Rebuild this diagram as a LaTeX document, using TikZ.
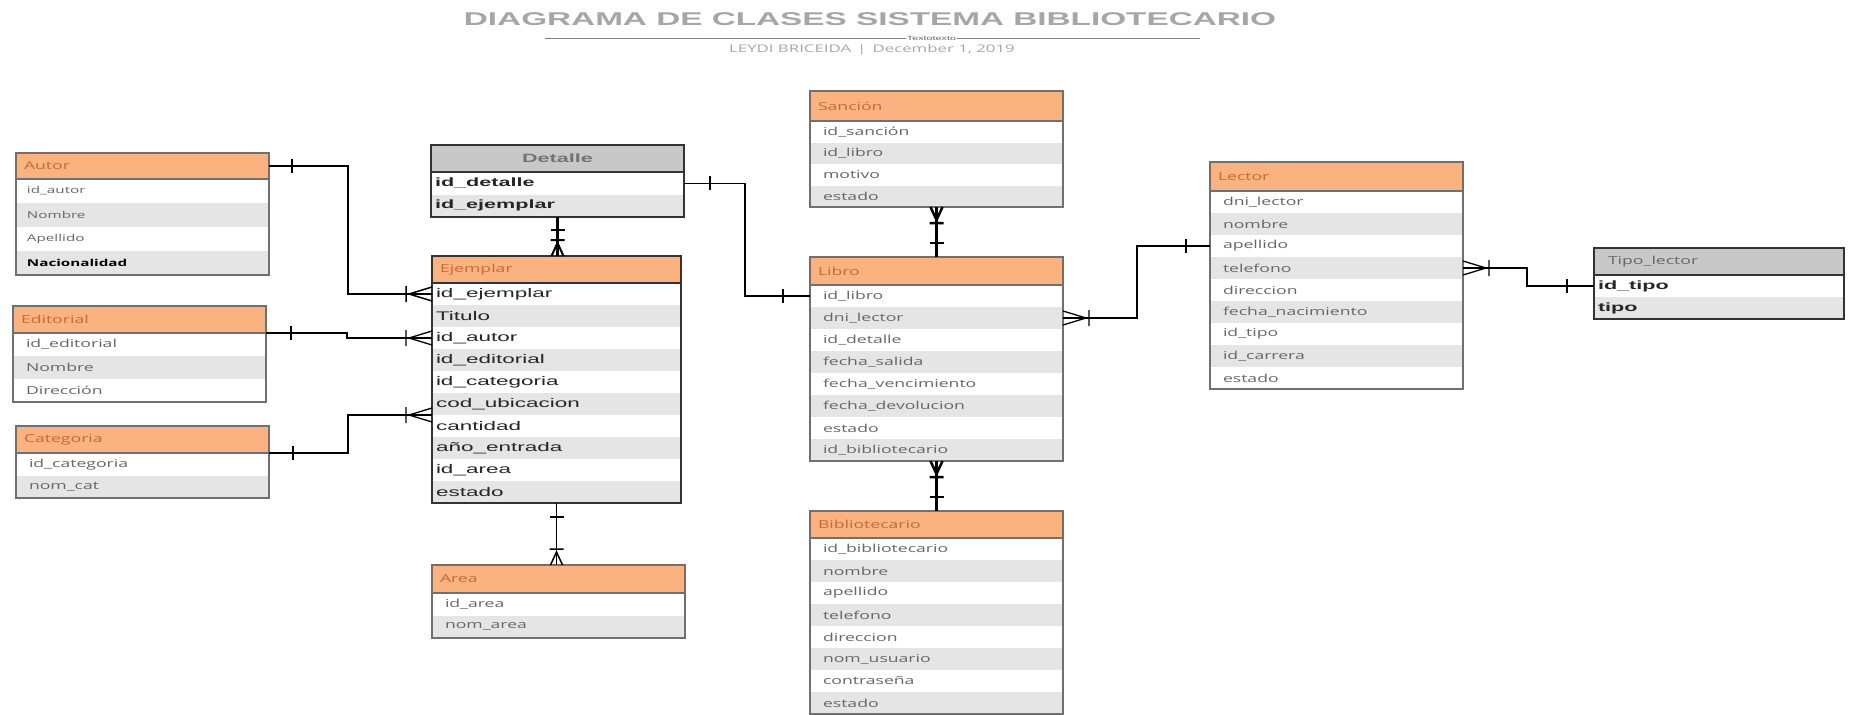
\documentclass[tikz,border=0pt]{standalone}
\usepackage{fontspec}
\usepackage{xcolor}
\newfontfamily\sansrow[FakeStretch=1.6]{Open Sans}
\newfontfamily\sanshead[FakeStretch=1.8]{Liberation Sans}
\usetikzlibrary{positioning}

\definecolor{headorange}{RGB}{250,178,128}
\definecolor{headtext}{RGB}{196,106,53}
\definecolor{headgray}{RGB}{200,200,200}
\definecolor{rowgray}{RGB}{229,229,229}
\definecolor{rowtext}{RGB}{102,102,102}
\definecolor{boxline}{RGB}{112,112,112}
\definecolor{titlegray}{RGB}{166,166,166}

\tikzstyle{head} = [anchor=north west, fill=headorange, text=headtext, inner xsep=8pt, inner ysep=0pt, outer sep=0pt, text width=237pt, align=left, font=\sansrow\fontsize{11}{13}\selectfont]
\tikzstyle{grayhead} = [head, fill=headgray, text=rowtext]
\tikzstyle{row} = [inner xsep=13pt, inner ysep=0pt, outer sep=0pt, text width=227pt, align=left, text=rowtext, font=\sansrow\fontsize{11}{13}\selectfont]
\tikzstyle{row0} = [row, fill=rowgray]
\tikzstyle{row1} = [row, fill=white]
\tikzstyle{blackrow} = [inner xsep=4pt, text width=245pt, text=black!85, font=\sanshead\fontsize{12.5}{14}\selectfont]
\tikzstyle{box} = [draw=boxline, line width=1.2pt]
\tikzstyle{darkbox} = [draw=black!80, line width=2pt]
\tikzstyle{fk} = [draw=black, line width=1.3pt]
\tikzset{
  crow/.pic={\draw (0,-7) -- (-23,0) -- (0,7) (-26,-8) -- (-26,8);},
  crowv/.pic={\draw (0,-6) -- (-13,0) -- (0,6) (-16,-7) -- (-16,7);},
  bar/.pic={\draw (0,-7) -- (0,7);}
}

\begin{document}
\begin{tikzpicture}[x=1pt, y=-1pt]
    \useasboundingbox (0,0) rectangle (1856,715);

    % Title
    \node [font=\sanshead\bfseries\fontsize{18.5}{18.5}\selectfont, text=titlegray] (title) at (870,19) {DIAGRAMA DE CLASES SISTEMA BIBLIOTECARIO};
    \draw [gray, line width=0.8pt] (545,38) -- node [pos=0.59, fill=white, inner sep=1pt, font=\sanshead\fontsize{6}{6}\selectfont, text=black!60] (tag) {Textotexto} (1200,38);
    \node [font=\sansrow\fontsize{10.5}{12}\selectfont, text=titlegray] (author) at (872,50) {LEYDI BRICEIDA \,|\, December 1, 2019};

    % Autor
    \node [head, minimum height=26pt] (autor) at (16,153) {Autor};
    \foreach \field [count=\i, remember=\i as \j (initially ), evaluate=\i as \k using {int(mod(\i,2))}] in {id\_autor, Nombre, Apellido, {\textcolor{black}{\bfseries Nacionalidad}}}
        \node [row\k, inner xsep=11pt, text width=231pt, font=\sansrow\fontsize{9.5}{11}\selectfont, minimum height=24pt, below=0pt of autor\j] (autor\i) {\field};
    \draw [box] (autor.north west) rectangle (autor4.south east) (autor.south west) -- (autor.south east);

    % Editorial
    \node [head, minimum height=27pt] (editorial) at (13,306) {Editorial};
    \foreach \field [count=\i, remember=\i as \j (initially ), evaluate=\i as \k using {int(mod(\i,2))}] in {id\_editorial, Nombre, Dirección}
        \node [row\k, minimum height=23pt, below=0pt of editorial\j] (editorial\i) {\field};
    \draw [box] (editorial.north west) rectangle (editorial3.south east) (editorial.south west) -- (editorial.south east);

    % Categoria
    \node [head, minimum height=27pt] (categoria) at (16,426) {Categoria};
    \foreach \field [count=\i, remember=\i as \j (initially ), evaluate=\i as \k using {int(mod(\i,2))}] in {id\_categoria, nom\_cat}
        \node [row\k, minimum height=22.5pt, below=0pt of categoria\j] (categoria\i) {\field};
    \draw [box] (categoria.north west) rectangle (categoria2.south east) (categoria.south west) -- (categoria.south east);

    % Detalle
    \node [grayhead, align=center, text=black!55, font=\sanshead\bfseries\fontsize{12}{14}\selectfont, minimum height=27pt] (detalle) at (431,145) {Detalle};
    \foreach \field [count=\i, remember=\i as \j (initially ), evaluate=\i as \k using {int(mod(\i,2))}] in {id\_detalle, id\_ejemplar}
        \node [row\k, blackrow, font=\sanshead\bfseries\fontsize{12}{14}\selectfont, minimum height=22.5pt, below=0pt of detalle\j] (detalle\i) {\field};
    \draw [darkbox] (detalle.north west) rectangle (detalle2.south east) (detalle.south west) -- (detalle.south east);

    % Ejemplar
    \node [head, text width=233pt, minimum height=27pt] (ejemplar) at (432,256) {Ejemplar};
    \foreach \field [count=\i, remember=\i as \j (initially ), evaluate=\i as \k using {int(mod(\i,2))}] in {id\_ejemplar, Titulo, id\_autor, id\_editorial, id\_categoria, cod\_ubicacion, cantidad, año\_entrada, id\_area, estado}
        \node [row\k, blackrow, text width=241pt, minimum height=22pt, below=0pt of ejemplar\j] (ejemplar\i) {\field};
    \draw [darkbox] (ejemplar.north west) rectangle (ejemplar10.south east) (ejemplar.south west) -- (ejemplar.south east);

    % Area
    \node [head, minimum height=28pt] (area) at (432,565) {Area};
    \foreach \field [count=\i, remember=\i as \j (initially ), evaluate=\i as \k using {int(mod(\i,2))}] in {id\_area, nom\_area}
        \node [row\k, minimum height=22.5pt, below=0pt of area\j] (area\i) {\field};
    \draw [box] (area.north west) rectangle (area2.south east) (area.south west) -- (area.south east);

    % Sancion
    \node [head, minimum height=30pt] (sancion) at (810,91) {Sanción};
    \foreach \field [count=\i, remember=\i as \j (initially ), evaluate=\i as \k using {int(mod(\i,2))}] in {id\_sanción, id\_libro, motivo, estado}
        \node [row\k, minimum height=21.5pt, below=0pt of sancion\j] (sancion\i) {\field};
    \draw [box] (sancion.north west) rectangle (sancion4.south east) (sancion.south west) -- (sancion.south east);

    % Libro
    \node [head, minimum height=28pt] (libro) at (810,257) {Libro};
    \foreach \field [count=\i, remember=\i as \j (initially ), evaluate=\i as \k using {int(mod(\i,2))}] in {id\_libro, dni\_lector, id\_detalle, fecha\_salida, fecha\_vencimiento, fecha\_devolucion, estado, id\_bibliotecario}
        \node [row\k, minimum height=22pt, below=0pt of libro\j] (libro\i) {\field};
    \draw [box] (libro.north west) rectangle (libro8.south east) (libro.south west) -- (libro.south east);

    % Bibliotecario
    \node [head, minimum height=27pt] (biblio) at (810,511) {Bibliotecario};
    \foreach \field [count=\i, remember=\i as \j (initially ), evaluate=\i as \k using {int(mod(\i,2))}] in {id\_bibliotecario, nombre, apellido, telefono, direccion, nom\_usuario, contraseña, estado}
        \node [row\k, minimum height=22pt, below=0pt of biblio\j] (biblio\i) {\field};
    \draw [box] (biblio.north west) rectangle (biblio8.south east) (biblio.south west) -- (biblio.south east);

    % Lector
    \node [head, minimum height=29pt] (lector) at (1210,162) {Lector};
    \foreach \field [count=\i, remember=\i as \j (initially ), evaluate=\i as \k using {int(mod(\i,2))}] in {dni\_lector, nombre, apellido, telefono, direccion, fecha\_nacimiento, id\_tipo, id\_carrera, estado}
        \node [row\k, minimum height=22pt, below=0pt of lector\j] (lector\i) {\field};
    \draw [box] (lector.north west) rectangle (lector9.south east) (lector.south west) -- (lector.south east);

    % Tipo_lector
    \node [grayhead, inner xsep=14pt, text width=222pt, minimum height=27pt] (tipo) at (1594,248) {Tipo\_lector};
    \foreach \field [count=\i, remember=\i as \j (initially ), evaluate=\i as \k using {int(mod(\i,2))}] in {id\_tipo, tipo}
        \node [row\k, blackrow, text width=242pt, font=\sanshead\bfseries\fontsize{12}{14}\selectfont, minimum height=22pt, below=0pt of tipo\j] (tipo\i) {\field};
    \draw [darkbox] (tipo.north west) rectangle (tipo2.south east) (tipo.south west) -- (tipo.south east);

    % Relations
    \draw [fk, line width=2.5pt] (autor.east) -- ++(79,0) |- (ejemplar1.west);
    \pic [line width=1.5pt] at ([xshift=23pt]autor.east) {bar};
    \pic [line width=1.5pt] at (ejemplar1.west) {crow};

    \draw [fk] (editorial.south east) -- ++(81,0) -- ++(0,4) |- (ejemplar3.west);
    \pic [line width=1.3pt] at ([xshift=25pt]editorial.south east) {bar};
    \pic [line width=1.3pt] at (ejemplar3.west) {crow};

    \draw [fk] (categoria.south east) -- ++(79,0) |- (ejemplar6.south west);
    \pic [line width=1.3pt] at ([xshift=24pt]categoria.south east) {bar};
    \pic [line width=1.3pt] at (ejemplar6.south west) {crow};

    \draw [fk, line width=3pt] (detalle2.south) -- (detalle2.south |- ejemplar.north);
    \pic [rotate=90, line width=2pt] at ([yshift=-13pt]detalle2.south) {bar};
    \pic [rotate=-90, line width=2pt] at (detalle2.south |- ejemplar.north) {crowv};

    \draw [fk] (detalle1.east) -- ++(61,0) |- (libro1.west);
    \pic [line width=1.3pt] at ([xshift=26pt]detalle1.east) {bar};
    \pic [line width=1.3pt] at ([xshift=-27pt]libro1.west) {bar};

    \draw [fk, line width=1.8pt] (ejemplar10.south) -- (ejemplar10.south |- area.north);
    \pic [rotate=90, line width=1.5pt] at ([yshift=-14pt]ejemplar10.south) {bar};
    \pic [rotate=-90, line width=1.5pt] at (ejemplar10.south |- area.north) {crowv};

    \draw [fk, line width=3pt] (sancion4.south) -- (libro.north);
    \pic [rotate=90, line width=2.5pt] at (sancion4.south) {crowv};
    \pic [rotate=90, line width=2.5pt] at ([yshift=14pt]libro.north) {bar};

    \draw [fk, line width=3pt] (libro8.south) -- (biblio.north);
    \pic [rotate=90, line width=2.5pt] at (libro8.south) {crowv};
    \pic [rotate=90, line width=2.5pt] at ([yshift=14pt]biblio.north) {bar};

    \draw [fk] (libro2.east) -- ++(74,0) |- (lector3.west);
    \pic [rotate=180, line width=1.3pt] at (libro2.east) {crow};
    \pic [line width=1.3pt] at ([xshift=-24pt]lector3.west) {bar};

    \draw [fk] (lector4.east) -- ++(64,0) |- (tipo1.west);
    \pic [rotate=180, line width=1.3pt] at (lector4.east) {crow};
    \pic [line width=1.3pt] at ([xshift=-27pt]tipo1.west) {bar};

\end{tikzpicture}
\end{document}
